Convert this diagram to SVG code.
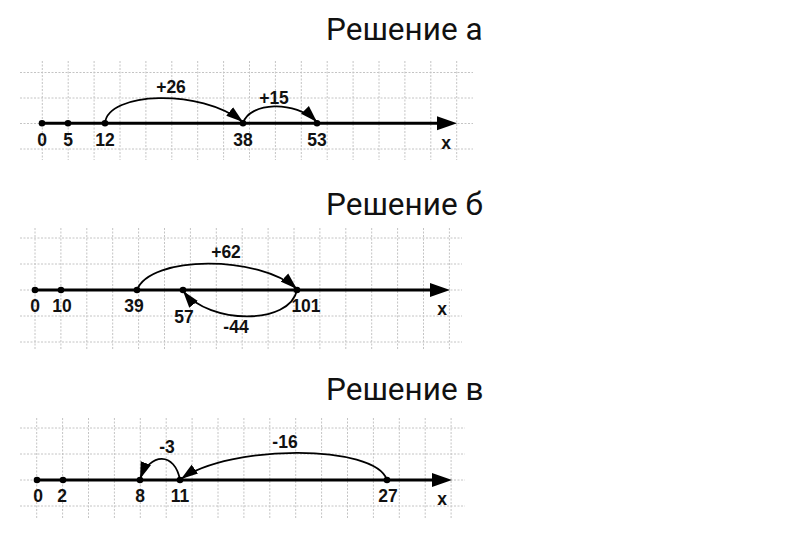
<svg xmlns="http://www.w3.org/2000/svg" width="800" height="553" viewBox="0 0 800 553">
<style>
.grid{stroke:#c4c4c4;stroke-width:1;stroke-dasharray:2,1.5;fill:none}
.axis{stroke:#000;stroke-width:3;fill:none}
.arc{stroke:#000;stroke-width:1.8;fill:none;marker-end:url(#ah)}
.lbl{font-family:"Liberation Sans",Arial,sans-serif;font-size:17.5px;font-weight:bold;fill:#111;text-anchor:middle}
.title{font-family:Roboto,"Noto Sans",sans-serif;font-size:31.5px;fill:#111}
</style>
<defs>
<marker id="ah" markerUnits="userSpaceOnUse" markerWidth="18" markerHeight="12" refX="17" refY="6" orient="auto">
<path d="M0,0.5 L17,6 L0,11.5 z" fill="#000"/>
</marker>
</defs>
<rect width="800" height="553" fill="#fff"/>

<g id="titles">
<text class="title" x="326" y="40">Решение а</text>
<text class="title" x="326" y="215">Решение б</text>
<text class="title" x="326" y="400">Решение в</text>
</g>

<g id="grid1" class="grid">
<path d="M20,72.5H473M20,98H473M20,123.5H473M20,149H473"/>
<path d="M42.3,61V160M68.2,61V160M94.1,61V160M120,61V160M145.9,61V160M171.8,61V160M197.7,61V160M223.6,61V160M249.5,61V160M275.4,61V160M301.3,61V160M327.2,61V160M353.1,61V160M379,61V160M404.9,61V160M430.8,61V160M456.7,61V160"/>
</g>
<g id="grid2" class="grid">
<path d="M20,238H462M20,264H462M20,290H462M20,316H462M20,342H462"/>
<path d="M35,228V350M60.9,228V350M86.8,228V350M112.7,228V350M138.6,228V350M164.5,228V350M190.4,228V350M216.3,228V350M242.2,228V350M268.1,228V350M294,228V350M319.9,228V350M345.8,228V350M371.7,228V350M397.6,228V350M423.5,228V350M449.4,228V350"/>
</g>
<g id="grid3" class="grid">
<path d="M20,428H465M20,454H465M20,480H465M20,506H465"/>
<path d="M36.7,418V518M62.6,418V518M88.5,418V518M114.4,418V518M140.3,418V518M166.2,418V518M192.1,418V518M218,418V518M243.9,418V518M269.8,418V518M295.7,418V518M321.6,418V518M347.5,418V518M373.4,418V518M399.3,418V518M425.2,418V518M451.1,418V518"/>
</g>

<g id="axis1">
<path class="axis" d="M42,123.3H440"/>
<path d="M437,116.3L457,123.3L437,130.3z" fill="#000"/>
<circle cx="42" cy="123.3" r="3.3"/><circle cx="68" cy="123.3" r="3.3"/><circle cx="105" cy="123.3" r="3.3"/><circle cx="243" cy="123.3" r="3.3"/><circle cx="317" cy="123.3" r="3.3"/>
<text class="lbl" x="42" y="145.5">0</text><text class="lbl" x="68" y="145.5">5</text><text class="lbl" x="105" y="145.5">12</text><text class="lbl" x="243" y="145.5">38</text><text class="lbl" x="317" y="145.5">53</text>
<text class="lbl" x="446" y="149">x</text>
</g>
<g id="axis2">
<path class="axis" d="M35,290H433"/>
<path d="M430,283L450,290L430,297z" fill="#000"/>
<circle cx="35" cy="290" r="3.3"/><circle cx="61" cy="290" r="3.3"/><circle cx="137" cy="290" r="3.3"/><circle cx="183" cy="290" r="3.3"/><circle cx="297" cy="290" r="3.3"/>
<text class="lbl" x="35" y="311.5">0</text><text class="lbl" x="62" y="311.5">10</text><text class="lbl" x="134" y="311.5">39</text><text class="lbl" x="184" y="322.5">57</text><text class="lbl" x="306" y="311.5">101</text>
<text class="lbl" x="442" y="315">x</text>
</g>
<g id="axis3">
<path class="axis" d="M37,480H435"/>
<path d="M432,473L452,480L432,487z" fill="#000"/>
<circle cx="37" cy="480" r="3.3"/><circle cx="63" cy="480" r="3.3"/><circle cx="140" cy="480" r="3.3"/><circle cx="180" cy="480" r="3.3"/><circle cx="387" cy="480" r="3.3"/>
<text class="lbl" x="38" y="502">0</text><text class="lbl" x="62" y="502">2</text><text class="lbl" x="140" y="502">8</text><text class="lbl" x="180" y="502">11</text><text class="lbl" x="388" y="502">27</text>
<text class="lbl" x="442" y="505">x</text>
</g>

<g id="connectors">
<path class="arc" d="M105,123 C108,92 200,88 243,122"/>
<path class="arc" d="M243,123 C250,102 295,100 317,122"/>
<path class="arc" d="M137,290 C150,255 260,255 297,289"/>
<path class="arc" d="M297,290 C290,325 210,325 183,291"/>
<path class="arc" d="M180,480 C175,452 150,452 140,479"/>
<path class="arc" d="M387,480 C375,444 230,444 181,479"/>
<text class="lbl" x="171" y="93">+26</text>
<text class="lbl" x="274" y="104">+15</text>
<text class="lbl" x="226" y="258">+62</text>
<text class="lbl" x="236" y="333">-44</text>
<text class="lbl" x="167" y="453">-3</text>
<text class="lbl" x="285" y="448">-16</text>
</g>
</svg>
